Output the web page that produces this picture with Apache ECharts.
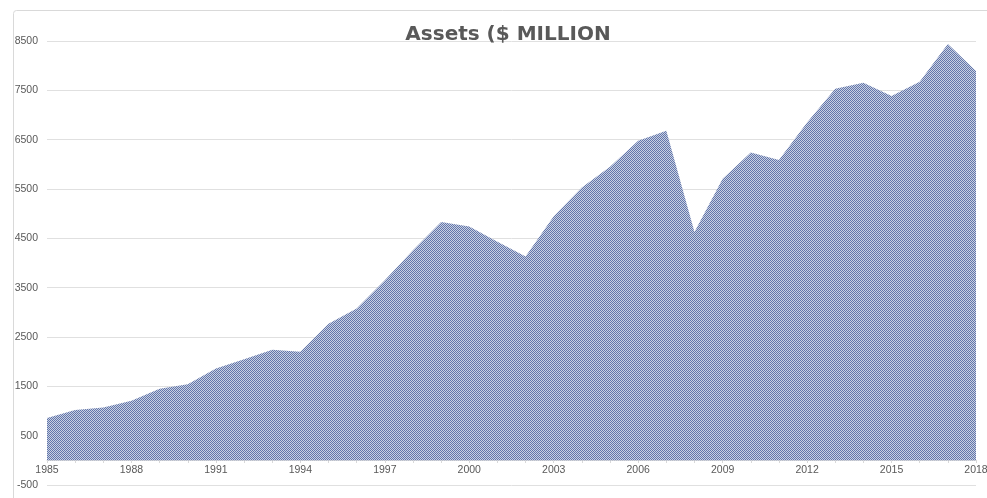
<!DOCTYPE html>
<html>
<head>
<meta charset="utf-8">
<script src="https://cdn.jsdelivr.net/npm/echarts@6/dist/echarts.min.js"></script>
<style>html,body{margin:0;padding:0;background:#fff}#c{width:987px;height:498px}</style>
</head>
<body>
<div id="c"></div>
<script>
const years = ['1985','1986','1987','1988','1989','1990','1991','1992','1993','1994','1995','1996','1997','1998','1999','2000','2001','2002','2003','2004','2005','2006','2007','2008','2009','2010','2011','2012','2013','2014','2015','2016','2017','2018'];
const assets = [860,1020,1070,1210,1450,1540,1860,2050,2240,2200,2770,3080,3650,4260,4830,4740,4430,4130,4950,5530,5950,6480,6680,4630,5710,6240,6090,6850,7530,7655,7385,7675,8440,7890];
const yTicks = {min: -500, max: 8500, interval: 1000};
const titleText = 'Assets ($ MILLION';

// dithered fill pattern
const pc = document.createElement('canvas');
pc.width = 2; pc.height = 2;
const px = pc.getContext('2d');
px.fillStyle = '#c9d0e2'; px.fillRect(0,0,2,2);
px.fillStyle = '#6276aa'; px.fillRect(0,0,1,1); px.fillRect(1,1,1,1);

const chart = echarts.init(document.getElementById('c'), null, {renderer: 'canvas'});
chart.setOption({
  animation: false,
  backgroundColor: '#fff',
  graphic: [{
    type: 'rect', left: 11, top: 8, z: -10,
    shape: {width: 990, height: 500, r: 3},
    style: {fill: 'none', stroke: '#d9d9d9', lineWidth: 1}
  }],
  title: {
    text: titleText, left: 503, top: 20, textAlign: 'center',
    textStyle: {fontFamily: 'DejaVu Sans, sans-serif', fontWeight: 'bold', fontSize: 20, color: '#595959'}
  },
  grid: {left: 47, right: 11, top: 41, bottom: 13, containLabel: false, outerBoundsMode: 'none'},
  xAxis: {
    type: 'category', data: years, boundaryGap: false, position: 'bottom', offset: -25,
    axisLine: {show: true, onZero: false, lineStyle: {color: '#d9d9d9'}},
    axisTick: {show: true, interval: 0, length: 3, lineStyle: {color: '#d9d9d9'}},
    axisLabel: {interval: 2, color: '#595959', fontSize: 10.5, margin: 5, fontFamily: 'Liberation Sans, Arial, sans-serif'},
    splitLine: {show: false}
  },
  yAxis: {
    type: 'value', min: yTicks.min, max: yTicks.max, interval: yTicks.interval,
    axisLine: {show: false}, axisTick: {show: false},
    axisLabel: {color: '#595959', fontSize: 10.5, margin: 9, fontFamily: 'Liberation Sans, Arial, sans-serif', formatter: function (v) { return String(v); }},
    splitLine: {lineStyle: {color: '#e0e0e0', width: 1}}
  },
  series: [{
    type: 'line', data: assets, symbol: 'none',
    lineStyle: {width: 0},
    areaStyle: {color: {image: pc, repeat: 'repeat'}, opacity: 1, origin: 'auto'},
    z: 2
  }]
});
</script>
</body>
</html>
